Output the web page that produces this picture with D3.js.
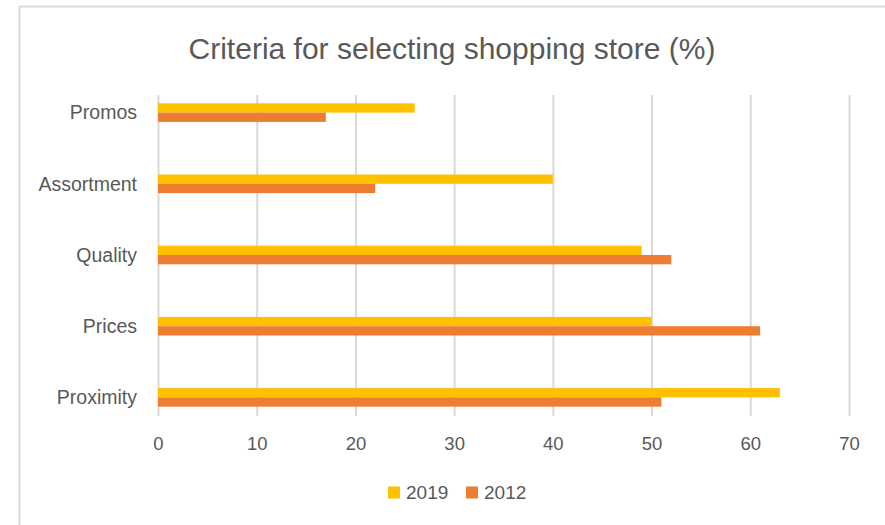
<!DOCTYPE html>
<html>
<head>
<meta charset="utf-8">
<script src="https://cdn.jsdelivr.net/npm/d3@7"></script>
<style>
  body { margin: 0; background: #fff; }
  text { font-family: "Liberation Sans", Arial, sans-serif; fill: #595959; }
</style>
</head>
<body>
<svg id="chart" width="885" height="525"></svg>
<script>
// chart data
var categories = ["Promos", "Assortment", "Quality", "Prices", "Proximity"];
var seriesNames = ["2019", "2012"];
var values2019 = [26, 40, 49, 50, 63];
var values2012 = [17, 22, 52, 61, 51];
var xTicks = [0, 10, 20, 30, 40, 50, 60, 70];

var _color = {
	"2019": "#ffc000",
	"2012": "#ed7d31",
	grid: "#d9d9d9",
	text: "#595959"
};

var svg = d3.select("#chart");

// outer chart frame (only top and left edges show)
svg.append("rect")
	.attr("x", 19.5).attr("y", 6.5)
	.attr("width", 900).attr("height", 600)
	.attr("fill", "none")
	.attr("stroke", _color.grid)
	.attr("stroke-width", 2);

// title
svg.append("text")
	.attr("x", 452).attr("y", 59)
	.attr("text-anchor", "middle")
	.style("font-size", "30px")
	.text("Criteria for selecting shopping store (%)");

var plotTop = 95, plotBottom = 416;

var x = d3.scaleLinear().domain([0, 70]).range([158, 849]);
var y = d3.scaleBand().domain(categories).range([77, 433]);
var ySub = d3.scaleBand().domain(seriesNames).range([-9.3, 9.3]);

// gridlines + tick labels
var xAxis = d3.axisBottom(x)
	.tickValues(xTicks)
	.tickSize(-(plotBottom - plotTop))
	.tickPadding(21);

var gx = svg.append("g")
	.attr("class", "axis axis--x")
	.attr("transform", "translate(0," + plotBottom + ")")
	.call(xAxis);
gx.select(".domain").remove();
gx.selectAll(".tick line").attr("stroke", _color.grid).attr("stroke-width", 2);
gx.selectAll(".tick text")
	.attr("fill", _color.text)
	.style("font-size", "18.5px")
	.style("font-family", "'Liberation Sans', Arial, sans-serif");

// category labels
svg.append("g").selectAll("text")
	.data(categories).enter()
	.append("text")
	.attr("x", 137)
	.attr("y", function(d){ return y(d) + y.bandwidth() / 2; })
	.attr("dy", "0.35em")
	.attr("text-anchor", "end")
	.style("font-size", "19.5px")
	.text(function(d){ return d; });

// bars
var rows = categories.map(function(c, i){
	return [
		{cat: c, series: "2019", value: values2019[i]},
		{cat: c, series: "2012", value: values2012[i]}
	];
});

svg.append("g").attr("class", "bars")
	.selectAll("g")
	.data(rows).enter()
	.append("g")
	.attr("transform", function(d){ return "translate(0," + (y(d[0].cat) + y.bandwidth() / 2) + ")"; })
	.selectAll("rect")
	.data(function(d){ return d; }).enter()
	.append("rect")
	.attr("x", x(0))
	.attr("y", function(d){ return ySub(d.series); })
	.attr("width", function(d){ return x(d.value) - x(0); })
	.attr("height", ySub.bandwidth())
	.attr("fill", function(d){ return _color[d.series]; });

// legend
var legendX = [388, 466];
var legend = svg.append("g").attr("class", "legend")
	.selectAll("g")
	.data(seriesNames).enter()
	.append("g")
	.attr("transform", function(d, i){ return "translate(" + legendX[i] + ",486.5)"; });

legend.append("rect")
	.attr("width", 12).attr("height", 12)
	.attr("fill", function(d){ return _color[d]; });

legend.append("text")
	.attr("x", 18).attr("y", 12.5)
	.style("font-size", "19px")
	.text(function(d){ return d; });
</script>
</body>
</html>
